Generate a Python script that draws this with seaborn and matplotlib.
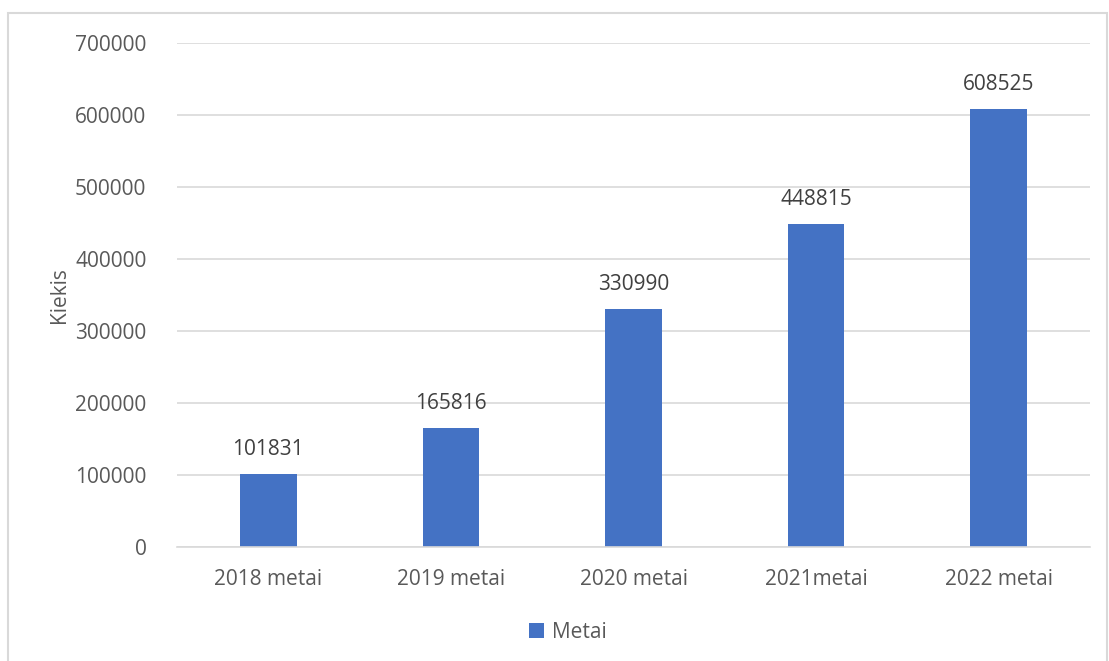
import matplotlib
matplotlib.use("Agg")
import matplotlib.pyplot as plt
from matplotlib.patches import Rectangle
from matplotlib.ticker import FixedLocator
import seaborn as sns
import pandas as pd

categories = ["2018 metai", "2019 metai", "2020 metai", "2021metai", "2022 metai"]
values = [101831, 165816, 330990, 448815, 608525]
series_name = "Metai"
y_label = "Kiekis"
y_ticks = [0, 100000, 200000, 300000, 400000, 500000, 600000, 700000]

sns.set_theme(style="white")
plt.rcParams["font.family"] = ["Open Sans", "DejaVu Sans"]

TEXT = "#595959"
GRID = "#d9d9d9"
BAR = "#4472C4"

df = pd.DataFrame({"cat": categories, "val": values})

fig = plt.figure(figsize=(11.09, 6.61), dpi=100)
ax = fig.add_axes([177/1109, 1-547/661, (1090-177)/1109, (547-43)/661])

sns.barplot(data=df, x="cat", y="val", color=BAR, width=0.31, saturation=1,
            label=series_name, linewidth=0, ax=ax)

ax.set_ylim(0, 700000)
ax.set_yticks(y_ticks)
ax.set_yticklabels([str(v) for v in y_ticks])
ax.set_xlim(-0.5, len(categories) - 0.5)
ax.yaxis.grid(True, color=GRID, linewidth=1.2)
ax.set_axisbelow(True)

for s in ["top", "right", "left"]:
    ax.spines[s].set_visible(False)
ax.spines["bottom"].set_color(GRID)
ax.spines["bottom"].set_linewidth(1.2)

ax.tick_params(axis="y", length=0, pad=22, labelsize=15, labelcolor=TEXT)
ax.tick_params(axis="x", which="major", length=0, pad=16, labelsize=15, labelcolor=TEXT)
ax.xaxis.set_minor_locator(FixedLocator([i - 0.5 for i in range(len(categories) + 1)]))
ax.tick_params(axis="x", which="minor", length=6, width=1.2, color=GRID, direction="out")

ax.set_xlabel("")
ax.set_ylabel(y_label, fontsize=15, color=TEXT, labelpad=4)

ax.bar_label(ax.containers[0], labels=[str(v) for v in values], padding=10,
             fontsize=15, color="#404040")

leg = ax.legend(loc="center", bbox_to_anchor=(568/1109, 1-632/661),
                bbox_transform=fig.transFigure, frameon=False, fontsize=15,
                handlelength=0.7, handleheight=0.7, handletextpad=0.4)
for t in leg.get_texts():
    t.set_color(TEXT)

fig.add_artist(Rectangle((8/1109, -0.02), (1107-8)/1109, 1-13/661 + 0.02,
                         transform=fig.transFigure, fill=False,
                         edgecolor=GRID, linewidth=1.5, clip_on=False))

fig.savefig("out.png", dpi=100)
